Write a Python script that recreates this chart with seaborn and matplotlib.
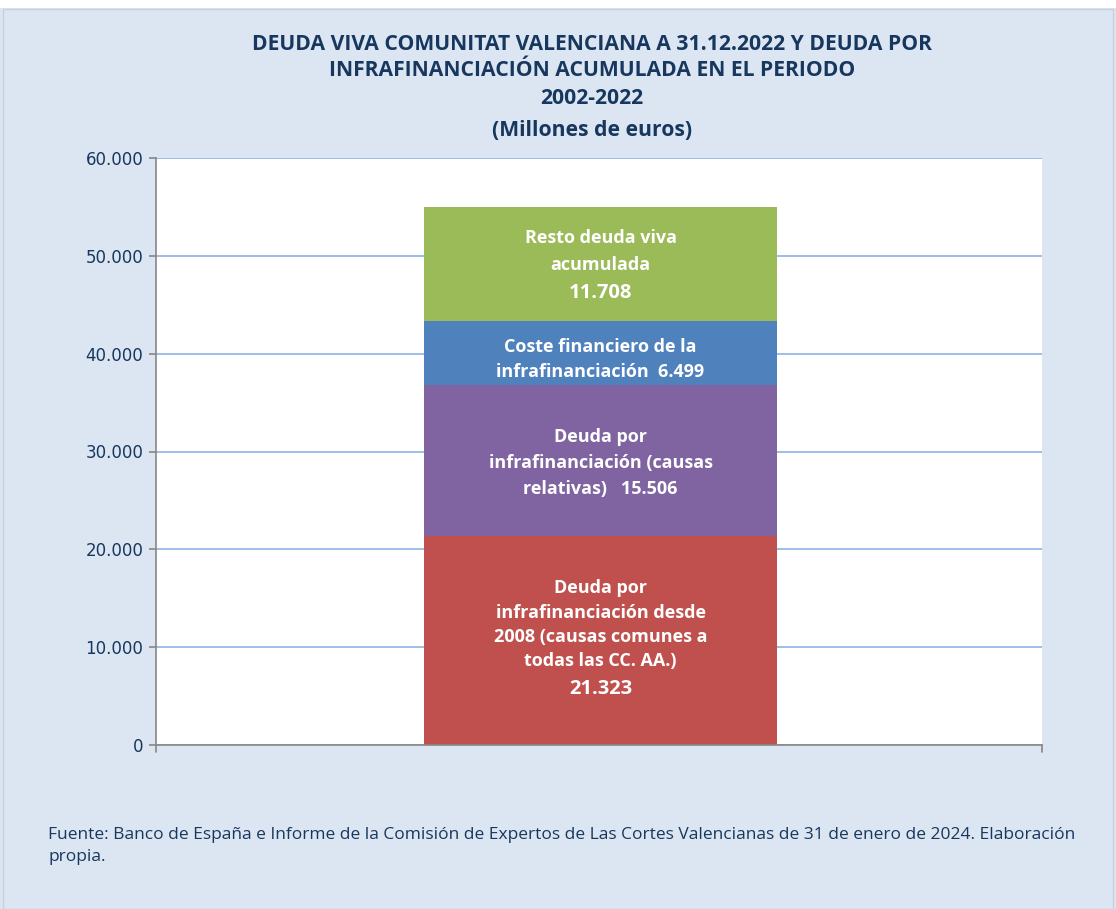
import matplotlib
matplotlib.use("Agg")
import matplotlib.pyplot as plt
import pandas as pd
import seaborn as sns
from matplotlib.patches import Rectangle

# Segments from bottom to top (millions of euros)
segment_labels = [
    "Deuda por\ninfrafinanciación desde\n2008 (causas comunes a\ntodas las CC. AA.)",
    "Deuda por\ninfrafinanciación (causas\nrelativas)",
    "Coste financiero de la\ninfrafinanciación",
    "Resto deuda viva\nacumulada",
]
segment_values = [21323, 15506, 6499, 11708]
value_labels = ["21.323", "15.506", "6.499", "11.708"]
segment_colors = ["#C0504D", "#8064A2", "#4F81BD", "#9BBB59"]
yticks = [0, 10000, 20000, 30000, 40000, 50000, 60000]
ytick_labels = ["0", "10.000", "20.000", "30.000", "40.000", "50.000", "60.000"]

title_lines = [
    "DEUDA VIVA COMUNITAT VALENCIANA A 31.12.2022 Y DEUDA POR",
    "INFRAFINANCIACIÓN ACUMULADA EN EL PERIODO",
    "2002-2022",
    "(Millones de euros)",
]
source_text = ("Fuente: Banco de España e Informe de la Comisión de Expertos de Las Cortes "
               "Valencianas de 31 de enero de 2024. Elaboración\npropia.")

sns.set_style("white")
text_font = ["Open Sans", "DejaVu Sans"]
plt.rcParams["font.family"] = ["DejaVu Sans"]

W, H = 1116, 909
fig = plt.figure(figsize=(W / 100, H / 100), dpi=100)
fig.patch.set_facecolor("#DCE6F2")
# white strip at the top and thin frame
fig.add_artist(Rectangle((0, 1 - 8 / H), 1, 8 / H, transform=fig.transFigure,
                         facecolor="white", edgecolor="none", zorder=0))
fig.add_artist(Rectangle((3 / W, 0), 1 - 6 / W, 1 - 9 / H, transform=fig.transFigure,
                         facecolor="none", edgecolor="#C8D0DA", lw=1, zorder=0))

ax = fig.add_axes([156 / W, 1 - 745 / H, (1042 - 156) / W, (745 - 158) / H])
ax.set_facecolor("white")

# cumulative totals, drawn tallest first so each segment overlays the next
cum = pd.Series(segment_values).cumsum()
df = pd.DataFrame({"cat": ["Deuda"] * 4, "total": cum.values, "color": segment_colors})
for i in reversed(range(len(df))):
    sns.barplot(data=df.iloc[[i]], x="cat", y="total", color=df["color"][i],
                width=0.8, saturation=1, edgecolor="none", linewidth=0, ax=ax)

ax.set_xlim(-1.0074, 1.0006)
ax.set_ylim(0, 60000)
ax.set_yticks(yticks)
ax.set_yticklabels(ytick_labels, fontsize=12, color="#17375E")
ax.set_xticks([])
ax.set_xlabel("")
ax.set_ylabel("")
ax.yaxis.grid(True, color="#8DB3E2", lw=1.2)
ax.set_axisbelow(True)
for s in ["top", "right"]:
    ax.spines[s].set_visible(False)
for s in ["left", "bottom"]:
    ax.spines[s].set_color("#868686")
    ax.spines[s].set_linewidth(1.2)
ax.tick_params(axis="y", length=5, color="#868686", width=1.2, pad=4, left=True)
# small ticks at ends of the bottom axis
for xe in ax.get_xlim():
    ax.plot([xe, xe], [0, -0.012], transform=ax.get_xaxis_transform(),
            color="#868686", lw=1.2, clip_on=False)

# segment labels: (label offset, value offset) in points from segment middle
bottoms = [0] + list(cum.values[:-1])
label_props = dict(ha="center", va="center", color="white", fontweight="bold",
                   family=text_font, textcoords="offset points")
for i, (lab, val, b, v) in enumerate(zip(segment_labels, value_labels, bottoms, segment_values)):
    mid = b + v / 2
    if i == 2:
        ax.annotate(lab + "  " + val, (0, mid), xytext=(0, -4.5), fontsize=13,
                    linespacing=1.5, **label_props)
    elif i == 1:
        ax.annotate(lab + "   " + val, (0, mid), xytext=(0, -1.8), fontsize=13,
                    linespacing=1.55, **label_props)
    elif i == 0:
        ax.annotate(lab, (0, mid), xytext=(0, 11.5), fontsize=13,
                    linespacing=1.45, **label_props)
        ax.annotate(val, (0, mid), xytext=(0, -35), fontsize=14.5, **label_props)
    else:
        ax.annotate(lab, (0, mid), xytext=(0, 9), fontsize=13,
                    linespacing=1.6, **label_props)
        ax.annotate(val, (0, mid), xytext=(0, -21), fontsize=14.5, **label_props)

# title
title_y = [44, 70, 99, 130]
for line, y in zip(title_lines, title_y):
    fig.text(592 / W, 1 - y / H, line, ha="center", va="center", fontsize=15.2,
             fontweight="bold", color="#17375E", family=text_font)

fig.text(48 / W, 1 - 846 / H, source_text, ha="left", va="center", fontsize=12.5,
         color="#17375E", family=text_font, linespacing=1.45)

plt.savefig("out.png", dpi=100, facecolor=fig.get_facecolor())
